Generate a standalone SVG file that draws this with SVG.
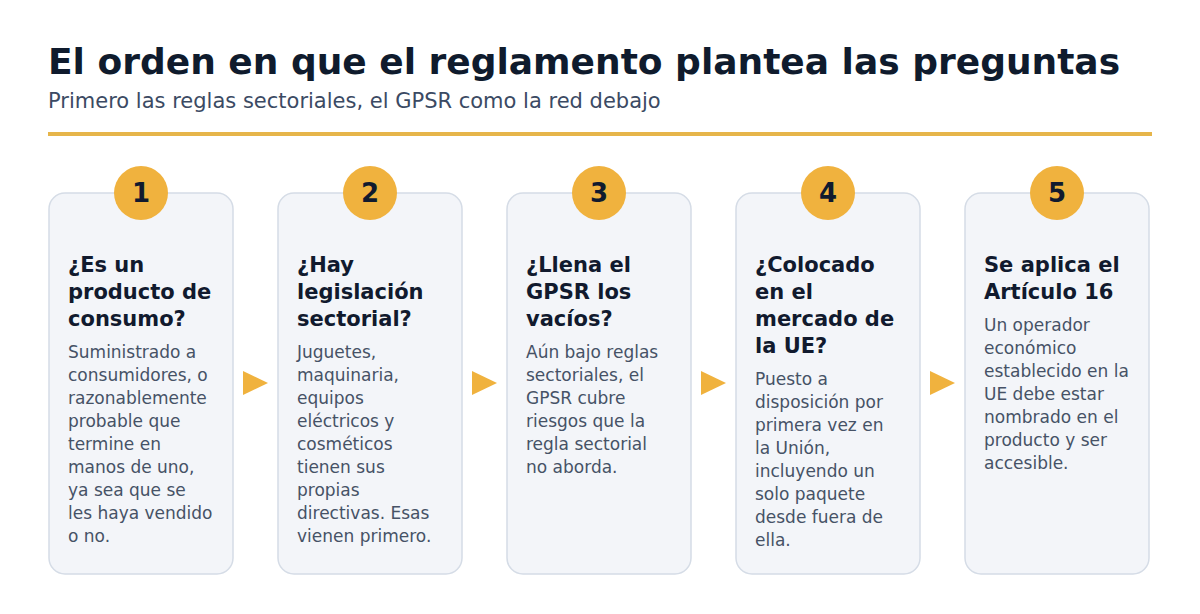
<svg xmlns="http://www.w3.org/2000/svg" width="1200" height="614" viewBox="0 0 1200 614">
<style>
.title{font-family:"DejaVu Sans",sans-serif;font-weight:bold;font-size:36px;fill:#0f1b2d}
.sub{font-family:"DejaVu Sans",sans-serif;font-size:21px;fill:#3b4a63}
.card{fill:#f3f5f9;stroke:#d5dce6;stroke-width:1.5}
.badge{fill:#f0b23e}
.num{font-family:"DejaVu Sans",sans-serif;font-weight:bold;font-size:26px;fill:#111a2e;text-anchor:middle}
.head{font-family:"DejaVu Sans",sans-serif;font-weight:bold;font-size:21px;fill:#111a2e}
.body{font-family:"DejaVu Sans",sans-serif;font-size:17px;fill:#465266}
.arrow{fill:#f0b23e}
</style>
<rect width="1200" height="614" fill="#ffffff"/>
<text class="title" x="48" y="74">El orden en que el reglamento plantea las preguntas</text>
<text class="sub" x="48" y="108">Primero las reglas sectoriales, el GPSR como la red debajo</text>
<rect x="48" y="132" width="1104" height="4" fill="#e6b54a"/>
<g id="connectors">
<polygon class="arrow" points="243,371 268,383 243,395"/>
<polygon class="arrow" points="472,371 497,383 472,395"/>
<polygon class="arrow" points="701,371 726,383 701,395"/>
<polygon class="arrow" points="930,371 955,383 930,395"/>
</g>
<g id="step1">
<rect class="card" x="49" y="193" width="184" height="381" rx="16"/>
<circle class="badge" cx="141" cy="193" r="27"/>
<text class="num" x="141" y="202">1</text>
<text class="head" x="68" y="272">¿Es un</text>
<text class="head" x="68" y="299">producto de</text>
<text class="head" x="68" y="326">consumo?</text>
<text class="body" x="68" y="358">Suministrado a</text>
<text class="body" x="68" y="381">consumidores, o</text>
<text class="body" x="68" y="404">razonablemente</text>
<text class="body" x="68" y="427">probable que</text>
<text class="body" x="68" y="450">termine en</text>
<text class="body" x="68" y="473">manos de uno,</text>
<text class="body" x="68" y="496">ya sea que se</text>
<text class="body" x="68" y="519">les haya vendido</text>
<text class="body" x="68" y="542">o no.</text>
</g>
<g id="step2">
<rect class="card" x="278" y="193" width="184" height="381" rx="16"/>
<circle class="badge" cx="370" cy="193" r="27"/>
<text class="num" x="370" y="202">2</text>
<text class="head" x="297" y="272">¿Hay</text>
<text class="head" x="297" y="299">legislación</text>
<text class="head" x="297" y="326">sectorial?</text>
<text class="body" x="297" y="358">Juguetes,</text>
<text class="body" x="297" y="381">maquinaria,</text>
<text class="body" x="297" y="404">equipos</text>
<text class="body" x="297" y="427">eléctricos y</text>
<text class="body" x="297" y="450">cosméticos</text>
<text class="body" x="297" y="473">tienen sus</text>
<text class="body" x="297" y="496">propias</text>
<text class="body" x="297" y="519">directivas. Esas</text>
<text class="body" x="297" y="542">vienen primero.</text>
</g>
<g id="step3">
<rect class="card" x="507" y="193" width="184" height="381" rx="16"/>
<circle class="badge" cx="599" cy="193" r="27"/>
<text class="num" x="599" y="202">3</text>
<text class="head" x="526" y="272">¿Llena el</text>
<text class="head" x="526" y="299">GPSR los</text>
<text class="head" x="526" y="326">vacíos?</text>
<text class="body" x="526" y="358">Aún bajo reglas</text>
<text class="body" x="526" y="381">sectoriales, el</text>
<text class="body" x="526" y="404">GPSR cubre</text>
<text class="body" x="526" y="427">riesgos que la</text>
<text class="body" x="526" y="450">regla sectorial</text>
<text class="body" x="526" y="473">no aborda.</text>
</g>
<g id="step4">
<rect class="card" x="736" y="193" width="184" height="381" rx="16"/>
<circle class="badge" cx="828" cy="193" r="27"/>
<text class="num" x="828" y="202">4</text>
<text class="head" x="755" y="272">¿Colocado</text>
<text class="head" x="755" y="299">en el</text>
<text class="head" x="755" y="326">mercado de</text>
<text class="head" x="755" y="353">la UE?</text>
<text class="body" x="755" y="385">Puesto a</text>
<text class="body" x="755" y="408">disposición por</text>
<text class="body" x="755" y="431">primera vez en</text>
<text class="body" x="755" y="454">la Unión,</text>
<text class="body" x="755" y="477">incluyendo un</text>
<text class="body" x="755" y="500">solo paquete</text>
<text class="body" x="755" y="523">desde fuera de</text>
<text class="body" x="755" y="546">ella.</text>
</g>
<g id="step5">
<rect class="card" x="965" y="193" width="184" height="381" rx="16"/>
<circle class="badge" cx="1057" cy="193" r="27"/>
<text class="num" x="1057" y="202">5</text>
<text class="head" x="984" y="272">Se aplica el</text>
<text class="head" x="984" y="299">Artículo 16</text>
<text class="body" x="984" y="331">Un operador</text>
<text class="body" x="984" y="354">económico</text>
<text class="body" x="984" y="377">establecido en la</text>
<text class="body" x="984" y="400">UE debe estar</text>
<text class="body" x="984" y="423">nombrado en el</text>
<text class="body" x="984" y="446">producto y ser</text>
<text class="body" x="984" y="469">accesible.</text>
</g>
</svg>
